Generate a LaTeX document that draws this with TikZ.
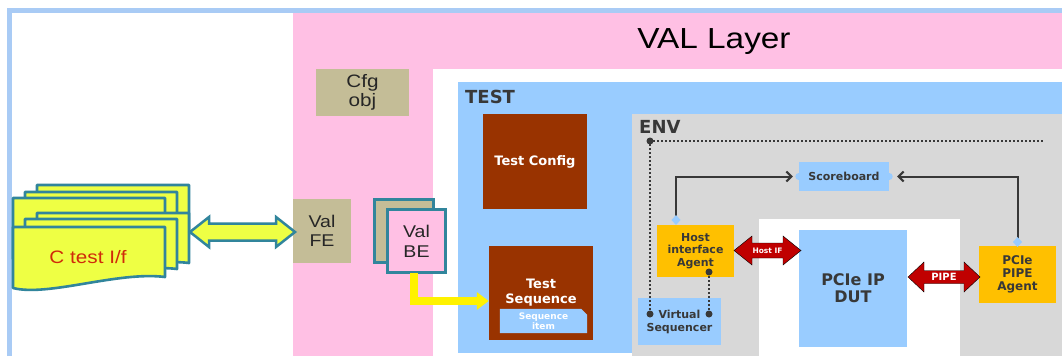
\documentclass[tikz,border=0pt]{standalone}
\usepackage{fontspec}
\setmainfont{Liberation Sans}
\newfontfamily\arialx{Liberation Sans}[FakeStretch=1.15]
\newfontfamily\verd{DejaVu Sans}
\usetikzlibrary{arrows.meta,calc}
\definecolor{pinkbg}{HTML}{FFC0E4}
\definecolor{lblue}{HTML}{99CCFF}
\definecolor{envgray}{HTML}{D8D8D8}
\definecolor{cbrown}{HTML}{993300}
\definecolor{cagent}{HTML}{FFC000}
\definecolor{arrred}{HTML}{C00000}
\definecolor{ctan}{HTML}{C4BD97}
\definecolor{cteal}{HTML}{31859C}
\definecolor{docyellow}{HTML}{EEFF44}
\definecolor{framebl}{HTML}{A9CBF5}
\definecolor{dtext}{HTML}{383838}
\definecolor{ctred}{HTML}{D02A0A}
\newcommand\blockarr[7]{%
  \draw[#7] (#1,#3) -- (#1+#6,#3-#5) -- (#1+#6,#3-#4) -- (#2-#6,#3-#4) -- (#2-#6,#3-#5)
   -- (#2,#3) -- (#2-#6,#3+#5) -- (#2-#6,#3+#4) -- (#1+#6,#3+#4) -- (#1+#6,#3+#5) -- cycle;}
\tikzset{
  docpic/.pic={\draw[draw=cteal, fill=docyellow, line width=2.6pt, line join=round]
     (0,0) -- (152,0) -- (152,50) .. controls (105,44) and (35,70) .. (0,61) -- cycle;},
  blk/.style={inner sep=0pt, align=center},
  vlbl/.style 2 args={font={\verd\bfseries\fontsize{#1}{#2}\selectfont}, text=dtext, align=center, inner sep=0pt},
  conn/.style={draw=dtext, line width=2pt, -{Straight Barb[length=5pt,width=10pt]}},
  dots/.style={draw=dtext, line width=2pt, dash pattern=on 2pt off 2pt},
  enddot/.style={fill=dtext},
  knob/.style={fill=lblue},
}
\begin{document}
\begin{tikzpicture}[x=1pt,y=-1pt]
\useasboundingbox (0,0) rectangle (1062,356);
\fill[white] (0,0) rectangle (1062,356);
% frame and layers
\draw[framebl, line width=5pt] (9.5,356) -- (9.5,10.5) -- (1062,10.5);
\fill[pinkbg] (293,13) rectangle (1062,356);
\fill[white] (433,69) rectangle (1062,356);
\fill[lblue] (458,82) rectangle (1062,353);
\fill[envgray] (632,114) rectangle (1062,356);
\fill[white] (759,219) rectangle (960,356);

\node[font={\arialx\fontsize{29}{30}\selectfont}, text=black] (val) at (714,42) {VAL Layer};
\node[blk, fill=ctan, minimum width=93pt, minimum height=47pt, text=black!85,
      font={\arialx\fontsize{18}{19}\selectfont}] (cfg) at (362.5,92.5) {Cfg\\obj};

\node[vlbl={18}{20}, anchor=west] (testlbl) at (465,97) {TEST};
\node[vlbl={18}{20}, anchor=west] (envlbl) at (639,127) {ENV};

\node[blk, fill=cbrown, minimum width=104pt, minimum height=95pt, text=white,
      font={\verd\bfseries\fontsize{13}{15}\selectfont}] (tcfg) at (535,161.5) {Test Config};
\node[blk, fill=cbrown, minimum width=104pt, minimum height=94pt, text=white,
      font={\verd\bfseries\fontsize{13}{15}\selectfont}] (tsq) at (541,293) {Test\\Sequence};
\node[blk, minimum width=87pt, minimum height=24pt] (si) at (543.5,321) {};
\fill[lblue] (si.south west) -- (si.north west) -- ($(si.north east)+(-6,0)$)
   -- ($(si.north east)+(0,6)$) -- (si.south east) -- cycle;
\node[blk, text=white, font={\verd\bfseries\fontsize{9}{10}\selectfont}] (sitext) at (si) {Sequence\\item};

% ENV contents
\node[vlbl={11}{12.5}, fill=lblue, minimum width=90pt, minimum height=29pt] (sb) at (844,176.5) {Scoreboard};
\node[vlbl={11}{12.5}, fill=cagent, minimum width=77pt, minimum height=52pt] (hia) at (695.5,251) {Host\\interface\\Agent};
\node[vlbl={11}{13}, fill=lblue, minimum width=83pt, minimum height=47pt] (vs) at (679.5,321.5) {Virtual\\Sequencer};
\node[vlbl={16}{17}, fill=lblue, minimum width=108pt, minimum height=117pt] (dut) at (853,288.5) {PCIe IP\\DUT};
\node[vlbl={12}{13}, fill=cagent, minimum width=77pt, minimum height=57pt] (ppa) at (1017.5,274.5) {PCIe\\PIPE\\Agent};

% dotted virtual sequencer links
\coordinate (d1) at (650,141);
\coordinate (d2) at (650,314);
\coordinate (d3) at (709,272);
\coordinate (d4) at (709,314);
\coordinate (d5) at (1043,141);
\draw[dots] (d2) -- (d1) -- (d5);
\draw[dots] (d3) -- (d4);
\foreach \p in {d1,d2,d3,d4} \fill[enddot] (\p) circle[radius=3.5pt];

% scoreboard connections
\coordinate (hd) at (676,220);
\coordinate (pd) at (1017.5,242);
\draw[conn] (hd) |- ($(sb.west)+(-6,0)$);
\draw[conn] (pd) |- ($(sb.east)+(8,0)$);
\fill[knob] (sb.west) circle[radius=3.5pt];
\fill[knob] (sb.east) circle[radius=3.5pt];
\fill[knob] (hd) +(0,-5) -- +(4.5,0) -- +(0,5) -- +(-4.5,0) -- cycle;
\fill[knob] (pd) +(0,-5) -- +(4.5,0) -- +(0,5) -- +(-4.5,0) -- cycle;

% red block arrows
\blockarr{734}{801}{250.5}{7.5}{14.5}{18}{fill=arrred}
\node[blk, text=white, font={\verd\bfseries\fontsize{7.5}{8}\selectfont}] (hostif) at (767.5,250.5) {Host IF};
\blockarr{908}{980}{277}{6.5}{15}{16}{fill=arrred}
\node[blk, text=white, font={\verd\bfseries\fontsize{10}{11}\selectfont}] (pipe) at (944,277) {PIPE};

% Val FE / BE
\node[blk, fill=ctan, minimum width=58pt, minimum height=64pt, text=black!85,
      font={\arialx\fontsize{17}{19}\selectfont}] (valfe) at (322,231) {Val\\FE};
\node[blk, fill=ctan, draw=cteal, line width=3pt, minimum width=59pt, minimum height=63pt] (valbeb) at (404,231) {};
\node[blk, fill=pinkbg, draw=cteal, line width=3pt, minimum width=58pt, minimum height=63pt, text=black!85,
      font={\arialx\fontsize{17}{20}\selectfont}] (valbe) at (416.5,241) {Val\\BE};
\draw[yellow, line width=8pt, -{Triangle[length=12pt,width=17pt]}]
   ($(valbe.south)+(-3,-1)$) |- ($(tsq.west)+(0,8)$);

% C test I/f documents
\pic at (37,185) {docpic};
\pic at (25,192) {docpic};
\pic at (13,198) {docpic};
\pic at (37,213) {docpic};
\pic at (25,219) {docpic};
\pic at (13,227) {docpic};
\node[font={\arialx\fontsize{18}{19}\selectfont}, text=ctred] (ctest) at (88,257) {C test I/f};
\blockarr{190}{295}{232}{8.5}{15}{19}{fill=docyellow, draw=cteal, line width=2.5pt, line join=miter}
\end{tikzpicture}
\end{document}
